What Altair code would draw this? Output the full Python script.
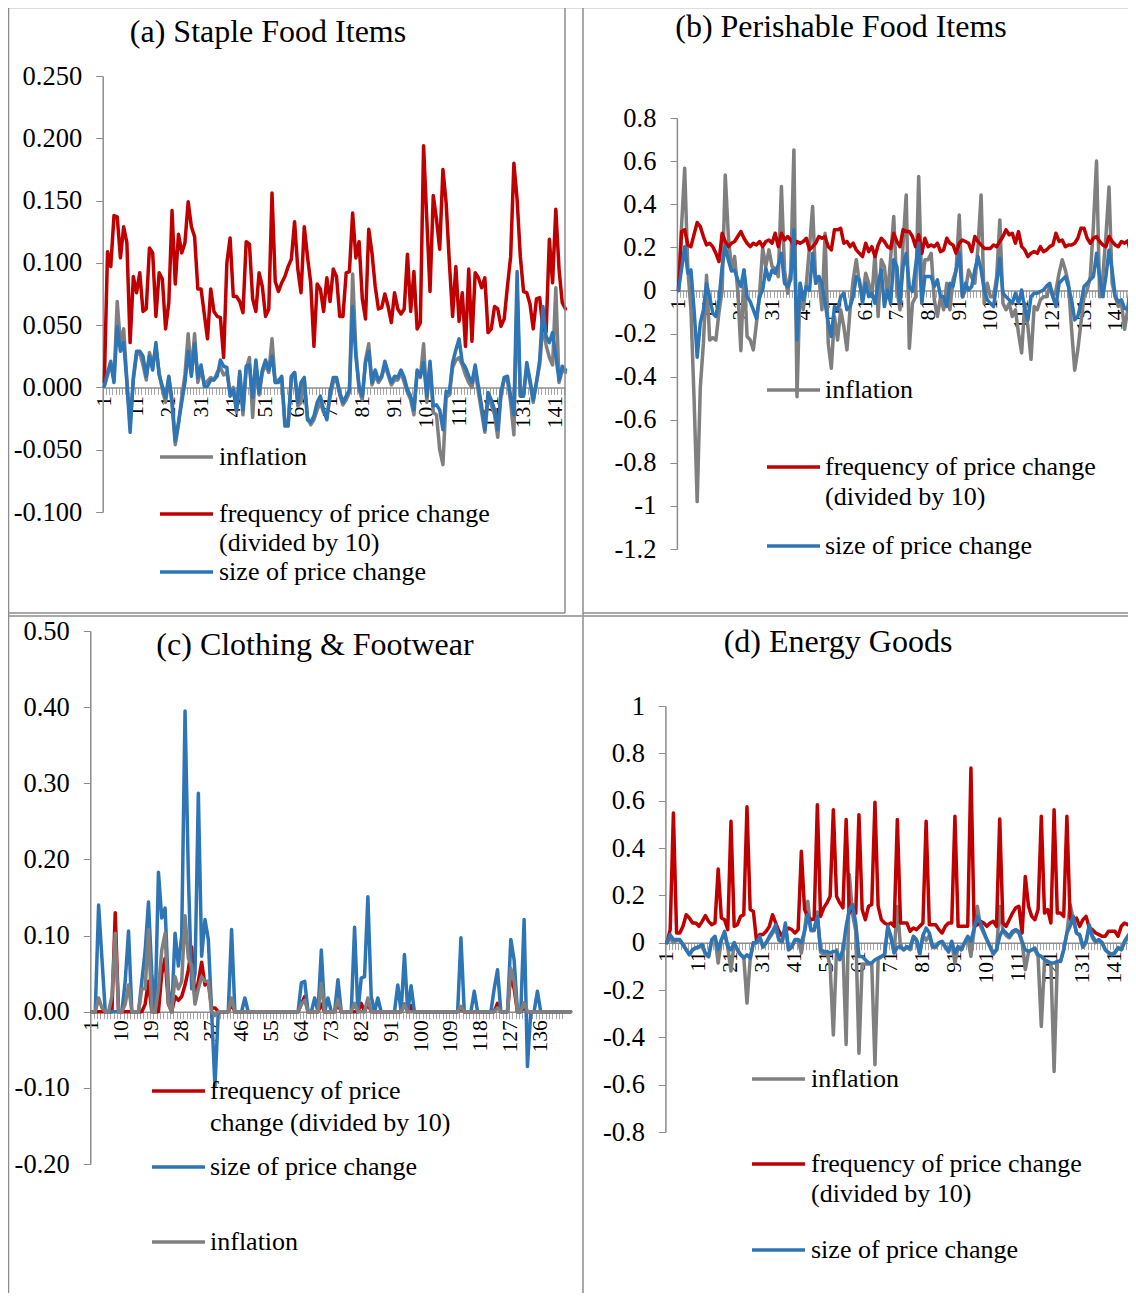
import altair as alt
import pandas as pd

W, H = 1120, 1285
RED = "#C00000"
BLUE = "#2E75B6"
GRAY = "#7F7F7F"
FONT = "Liberation Serif"

# ---------------- (a) Staple Food Items ----------------
a_infl = [0.001, 0.010, 0.018, 0.006, 0.069, 0.035, 0.047, 0.006, -0.030, 0.006,
          0.026, 0.028, 0.018, 0.006, 0.028, 0.018, 0.032, 0.012, -0.002, -0.012,
          0.008, -0.014, -0.046, -0.030, -0.008, 0.010, 0.043, 0.012, 0.043, 0.004,
          0.015, 0.003, 0.005, 0.008, 0.006, 0.012, 0.016, 0.010, 0.012, -0.004,
          0.000, -0.020, 0.010, -0.022, 0.015, 0.024, -0.024, 0.018, -0.006, 0.012,
          0.018, 0.012, 0.039, 0.004, 0.006, 0.008, -0.028, -0.030, 0.008, 0.012,
          -0.015, -0.012, 0.006, -0.024, -0.030, -0.026, -0.018, -0.012, -0.020, -0.024,
          -0.008, 0.004, 0.006, -0.006, -0.014, -0.010, -0.004, 0.091, 0.030, -0.002,
          -0.010, 0.022, 0.035, 0.002, 0.010, 0.004, 0.008, 0.018, 0.010, 0.002,
          0.006, 0.006, 0.012, 0.004, -0.004, -0.010, -0.022, 0.012, 0.008, 0.035,
          -0.012, 0.018, -0.020, -0.022, -0.050, -0.062, -0.008, -0.006, 0.016, 0.022,
          0.024, 0.018, 0.010, 0.004, 0.000, 0.014, -0.004, -0.020, -0.036, -0.008,
          -0.014, -0.022, -0.040, -0.006, 0.006, 0.006, -0.012, -0.038, 0.075, -0.006,
          -0.004, 0.016, 0.004, -0.012, 0.004, 0.018, 0.050, 0.034, 0.024, 0.018,
          0.080, 0.004, 0.014, 0.012]
a_freq = [0.004, 0.109, 0.097, 0.138, 0.137, 0.104, 0.129, 0.116, 0.036, 0.089,
          0.076, 0.092, 0.061, 0.063, 0.112, 0.108, 0.057, 0.092, 0.087, 0.047,
          0.068, 0.142, 0.083, 0.123, 0.108, 0.116, 0.149, 0.129, 0.121, 0.079,
          0.079, 0.059, 0.039, 0.079, 0.061, 0.057, 0.056, 0.024, 0.100, 0.120,
          0.073, 0.073, 0.069, 0.060, 0.117, 0.115, 0.071, 0.061, 0.092, 0.081,
          0.057, 0.063, 0.156, 0.085, 0.077, 0.084, 0.089, 0.097, 0.103, 0.133,
          0.095, 0.076, 0.129, 0.105, 0.084, 0.033, 0.083, 0.079, 0.061, 0.088,
          0.069, 0.095, 0.089, 0.057, 0.057, 0.092, 0.093, 0.140, 0.104, 0.117,
          0.071, 0.055, 0.127, 0.108, 0.081, 0.063, 0.064, 0.075, 0.065, 0.052,
          0.076, 0.063, 0.059, 0.063, 0.107, 0.061, 0.093, 0.047, 0.052, 0.194,
          0.135, 0.077, 0.154, 0.135, 0.111, 0.175, 0.148, 0.100, 0.057, 0.097,
          0.053, 0.076, 0.033, 0.095, 0.037, 0.092, 0.088, 0.080, 0.088, 0.044,
          0.047, 0.065, 0.063, 0.049, 0.055, 0.081, 0.105, 0.180, 0.151, 0.105,
          0.077, 0.076, 0.067, 0.047, 0.071, 0.072, 0.047, 0.045, 0.119, 0.084,
          0.143, 0.095, 0.068, 0.063]
a_size = [0.001, 0.012, 0.021, 0.004, 0.049, 0.029, 0.036, 0.004, -0.036, 0.008,
          0.029, 0.029, 0.025, 0.009, 0.025, 0.014, 0.036, 0.010, 0.001, -0.008,
          0.009, -0.010, -0.043, -0.028, -0.012, 0.004, 0.029, 0.009, 0.035, 0.008,
          0.018, 0.001, 0.001, 0.006, 0.006, 0.009, 0.022, 0.017, 0.016, -0.007,
          -0.002, -0.018, 0.013, -0.018, 0.017, 0.018, -0.008, 0.022, -0.004, 0.014,
          0.022, 0.014, 0.025, 0.004, 0.004, 0.009, -0.031, -0.031, 0.009, 0.012,
          -0.012, 0.004, 0.008, -0.026, -0.028, -0.023, -0.012, -0.007, -0.018, -0.026,
          -0.004, 0.008, 0.008, -0.004, -0.012, -0.007, -0.002, 0.065, 0.025, 0.001,
          -0.007, 0.020, 0.029, 0.004, 0.014, 0.006, 0.009, 0.021, 0.012, 0.004,
          0.009, 0.008, 0.014, 0.008, -0.002, -0.007, -0.018, 0.014, 0.009, 0.020,
          -0.007, 0.021, -0.015, -0.014, -0.018, -0.034, -0.003, -0.004, 0.020, 0.030,
          0.039, 0.020, 0.016, 0.009, 0.004, 0.018, 0.001, -0.015, -0.034, -0.004,
          -0.010, -0.018, -0.034, -0.004, 0.008, 0.009, -0.007, -0.022, 0.093, -0.007,
          -0.007, 0.020, 0.006, -0.010, 0.004, 0.022, 0.065, 0.041, 0.036, 0.044,
          0.025, 0.006, 0.017, 0.014]

# ---------------- (b) Perishable Food Items ----------------
b_infl = [0.00, 0.30, 0.567, 0.10, -0.09, -0.50, -0.98, -0.45, -0.245, 0.07,
          -0.23, -0.22, -0.23, -0.10, 0.00, 0.536, 0.25, 0.095, 0.157, 0.00,
          -0.28, 0.095, -0.214, -0.23, -0.276, -0.152, -0.013, 0.196, 0.111, 0.188,
          0.111, 0.10, 0.064, 0.482, 0.095, -0.013, 0.095, 0.652, -0.493, 0.033,
          -0.09, 0.033, 0.20, 0.389, 0.033, 0.064, -0.09, 0.265, -0.245, -0.361,
          -0.121, -0.23, -0.09, -0.168, -0.276, -0.09, 0.05, 0.142, 0.033, -0.029,
          0.080, 0.033, -0.029, 0.172, -0.121, 0.142, 0.111, -0.029, 0.15, 0.343,
          0.002, -0.09, 0.219, 0.443, -0.268, -0.06, -0.03, 0.528, 0.00, 0.142,
          0.142, 0.172, -0.044, -0.121, -0.03, -0.09, 0.033, -0.09, 0.05, 0.095,
          0.35, -0.03, 0.00, 0.095, 0.06, 0.033, 0.20, 0.443, -0.06, 0.033,
          -0.03, -0.03, 0.064, 0.327, -0.06, -0.09, -0.06, -0.121, -0.09, -0.20,
          -0.29, -0.06, -0.168, -0.32, -0.075, -0.09, -0.044, -0.03, -0.03, 0.018,
          -0.03, 0.00, 0.08, 0.142, 0.095, 0.033, -0.18, -0.37, -0.276, -0.152,
          -0.03, 0.00, 0.064, 0.30, 0.60, -0.03, 0.064, 0.25, 0.48, 0.033,
          -0.03, -0.075, -0.06, -0.18, -0.09, 0.00, 0.19, 0.43]
b_freq = [0.00, 0.273, 0.281, 0.211, 0.203, 0.26, 0.315, 0.296, 0.25, 0.211,
          0.219, 0.203, 0.172, 0.134, 0.265, 0.227, 0.203, 0.219, 0.227, 0.25,
          0.273, 0.242, 0.219, 0.203, 0.219, 0.211, 0.227, 0.203, 0.227, 0.234,
          0.219, 0.265, 0.203, 0.265, 0.234, 0.25, 0.234, 0.203, 0.227, 0.219,
          0.227, 0.242, 0.188, 0.203, 0.219, 0.25, 0.242, 0.25, 0.203, 0.188,
          0.281, 0.281, 0.288, 0.219, 0.227, 0.203, 0.219, 0.188, 0.172, 0.157,
          0.219, 0.18, 0.203, 0.157, 0.211, 0.242, 0.227, 0.203, 0.195, 0.265,
          0.227, 0.203, 0.281, 0.273, 0.273, 0.25, 0.203, 0.258, 0.172, 0.242,
          0.203, 0.211, 0.203, 0.219, 0.18, 0.188, 0.242, 0.219, 0.211, 0.172,
          0.219, 0.234, 0.227, 0.219, 0.18, 0.25, 0.227, 0.211, 0.195, 0.195,
          0.195, 0.211, 0.203, 0.227, 0.25, 0.281, 0.258, 0.265, 0.219, 0.273,
          0.203, 0.188, 0.157, 0.172, 0.18, 0.172, 0.203, 0.18, 0.188, 0.203,
          0.211, 0.265, 0.227, 0.234, 0.203, 0.211, 0.211, 0.219, 0.242, 0.288,
          0.288, 0.242, 0.219, 0.242, 0.25, 0.227, 0.211, 0.203, 0.25, 0.227,
          0.211, 0.203, 0.227, 0.219, 0.23, 0.172, 0.288, 0.29]
b_size = [0.0, 0.10, 0.203, 0.08, 0.095, -0.09, -0.31, -0.152, -0.09, 0.033,
          -0.029, -0.106, -0.121, -0.044, 0.111, 0.203, 0.14, 0.09, 0.095, 0.05,
          0.018, 0.095, -0.029, -0.052, -0.09, -0.13, -0.029, 0.002, 0.103, 0.049,
          0.095, 0.08, 0.12, 0.172, 0.033, 0.018, 0.049, 0.281, -0.23, 0.033,
          -0.044, 0.018, 0.0, 0.172, 0.033, 0.064, 0.033, -0.06, -0.15, -0.214,
          -0.075, -0.09, -0.029, -0.013, -0.09, -0.075, -0.029, 0.064, 0.049, -0.06,
          0.033, -0.029, -0.013, -0.06, 0.03, 0.095, -0.075, 0.002, -0.06, 0.142,
          0.111, -0.06, 0.111, 0.172, 0.018, -0.005, 0.111, 0.219, -0.06, 0.064,
          0.064, 0.064, 0.018, 0.049, -0.029, -0.029, -0.075, 0.033, 0.018, 0.095,
          0.172, -0.029, 0.033, 0.002, 0.018, 0.095, 0.157, 0.095, 0.002, -0.044,
          -0.06, -0.075, 0.033, 0.149, -0.013, -0.029, -0.044, -0.06, -0.013, -0.06,
          0.002, -0.09, -0.137, -0.029, -0.013, -0.013, -0.005, 0.002, 0.02, 0.033,
          -0.029, -0.075, 0.033, 0.049, 0.064, 0.018, -0.044, -0.137, -0.121, -0.06,
          0.018, 0.033, 0.05, 0.064, 0.172, 0.064, -0.029, 0.064, 0.188, 0.095,
          -0.029, -0.052, -0.044, -0.083, -0.09, 0.05, 0.157, 0.16]

# ---------------- (c) Clothing & Footwear ----------------
c_freq = [0, 0, 0, 0, 0, 0, 0, 0.13, 0, 0,
          0, 0, 0, 0, 0, 0, 0.01, 0.04, 0, 0,
          0, 0.05, 0.07, 0.01, 0, 0.02, 0.015, 0.02, 0.035, 0.055,
          0.085, 0.015, 0.04, 0.065, 0.035, 0.04, 0.005, 0.005, 0, 0,
          0, 0, 0.01, 0, 0, 0, 0, 0, 0, 0,
          0, 0, 0, 0, 0, 0, 0, 0, 0, 0,
          0, 0, 0, 0.01, 0.02, 0, 0, 0, 0, 0.01,
          0, 0, 0, 0, 0.01, 0, 0, 0, 0, 0,
          0, 0.011, 0, 0.011, 0, 0, 0, 0, 0, 0,
          0, 0, 0, 0, 0.01, 0, 0.008, 0, 0, 0,
          0, 0, 0, 0, 0, 0, 0, 0, 0, 0,
          0, 0.004, 0, 0, 0, 0, 0, 0, 0, 0,
          0, 0, 0.011, 0, 0, 0, 0.05, 0.03, 0, 0,
          0.005, 0, 0, 0, 0, 0, 0, 0, 0, 0,
          0, 0, 0, 0, 0]
c_size = [0, 0, 0.14, 0.07, 0, 0, 0, 0, 0, 0,
          0.04, 0.106, 0, 0, 0, 0.04, 0.08, 0.144, 0.05, 0,
          0.183, 0.123, 0.136, 0.03, 0, 0.103, 0.06, 0.10, 0.395, 0.18,
          0.03, 0.05, 0.287, 0.073, 0.121, 0.095, 0, -0.098, 0, 0,
          0, 0, 0.108, 0, 0, 0, 0.018, 0, 0, 0,
          0, 0, 0, 0, 0, 0, 0, 0, 0, 0,
          0, 0, 0, 0.038, 0.04, 0, 0, 0.018, 0, 0.081,
          0, 0.018, 0, 0, 0.042, 0, 0, 0, 0, 0.111,
          0, 0.044, 0.046, 0.151, 0.02, 0, 0.018, 0, 0, 0,
          0, 0, 0.035, 0, 0.075, 0, 0.034, 0, 0, 0,
          0, 0, 0, 0, 0, 0, 0, 0, 0, 0,
          0, 0.097, 0, 0, 0, 0.027, 0, 0, 0, 0,
          0, 0.03, 0.055, 0, 0, 0, 0.095, 0.068, 0, 0,
          0.121, -0.072, 0, 0, 0.027, 0, 0, 0, 0, 0,
          0, 0, 0, 0, 0]
c_infl = [0, 0, 0.018, 0.005, 0, 0, 0.02, 0.103, 0, 0,
          0.01, 0.035, 0, 0, 0, 0.03, 0.03, 0.108, 0, 0,
          0.03, 0.081, 0.103, 0.01, 0, 0.046, 0.03, 0.04, 0.126, 0.07,
          0.06, 0.01, 0.03, 0.046, 0.04, 0.04, 0, -0.005, 0, 0,
          0, 0, 0.018, 0, 0, 0, 0, 0, 0, 0,
          0, 0, 0, 0, 0, 0, 0, 0, 0, 0,
          0, 0, 0, 0.01, 0.015, 0, 0, 0, 0, 0.037,
          0, 0, 0, 0, 0.016, 0, 0, 0, 0, 0.011,
          0, 0, 0, 0.018, 0, 0, 0, 0, 0, 0,
          0, 0, 0, 0, 0.009, 0, 0, 0, 0, 0,
          0, 0, 0, 0, 0, 0, 0, 0, 0, 0,
          0, 0.007, 0, 0, 0, 0, 0, 0, 0, 0,
          0, 0, 0.005, 0, 0, 0, 0.057, 0.04, 0, 0,
          0.012, 0, 0, 0, 0, 0, 0, 0, 0, 0,
          0, 0, 0, 0, 0]

# ---------------- (d) Energy Goods ----------------
d_infl = [0.0, 0.02, 0.0, 0.01, 0.01, -0.01, -0.03, -0.05, -0.03, -0.02,
          -0.02, -0.01, -0.05, -0.06, 0.01, 0.02, -0.086, 0.01, 0.04, -0.02,
          -0.12, 0.0, -0.03, -0.05, -0.06, -0.255, -0.07, 0.0, 0.0, 0.02,
          -0.02, 0.0, 0.02, 0.04, 0.06, 0.01, 0.0, 0.07, -0.03, -0.02,
          0.01, 0.01, -0.044, 0.05, 0.175, 0.05, 0.05, 0.13, -0.04, -0.05,
          -0.04, -0.10, -0.39, -0.03, -0.07, -0.03, -0.43, 0.288, 0.12, 0.05,
          -0.467, -0.09, -0.09, -0.09, -0.09, -0.516, -0.07, -0.06, -0.05, 0.06,
          0.02, -0.04, 0.154, -0.02, -0.03, -0.02, -0.03, 0.02, 0.01, -0.05,
          0.03, 0.01, 0.03, -0.02, -0.02, 0.0, 0.0, -0.02, -0.04, 0.0,
          -0.086, -0.02, -0.03, 0.0, 0.02, -0.058, 0.05, 0.154, 0.07, 0.04,
          0.01, -0.02, -0.05, -0.03, 0.154, 0.05, 0.03, 0.02, 0.04, 0.05,
          0.04, 0.0, -0.114, -0.04, -0.03, -0.03, -0.06, -0.354, -0.08, -0.08,
          -0.09, -0.544, -0.08, -0.08, -0.03, 0.04, 0.161, 0.10, 0.04, 0.03,
          -0.02, 0.0, 0.07, 0.02, 0.0, 0.01, 0.0, -0.03, -0.04, -0.05,
          -0.04, -0.02, -0.03, 0.0, 0.02, 0.04, 0.06, 0.06]
d_freq = [0.0, 0.055, 0.548, 0.041, 0.041, 0.069, 0.118, 0.104, 0.083, 0.083,
          0.069, 0.09, 0.114, 0.09, 0.076, 0.083, 0.311, 0.104, 0.097, 0.055,
          0.513, 0.069, 0.076, 0.111, 0.118, 0.574, 0.14, 0.132, 0.006, 0.034,
          0.034, 0.048, 0.069, 0.118, 0.083, 0.048, 0.027, 0.048, 0.062, 0.055,
          0.041, 0.055, 0.386, 0.14, 0.111, 0.097, 0.10, 0.583, 0.111, 0.147,
          0.168, 0.196, 0.562, 0.196, 0.168, 0.147, 0.52, 0.125, 0.154, 0.125,
          0.541, 0.14, 0.097, 0.154, 0.161, 0.593, 0.154, 0.097, 0.083, 0.076,
          0.083, 0.069, 0.52, 0.083, 0.083, 0.083, 0.048, 0.062, 0.055, 0.069,
          0.083, 0.513, 0.076, 0.076, 0.076, 0.055, 0.041, 0.069, 0.083, 0.083,
          0.534, 0.069, 0.069, 0.069, 0.069, 0.738, 0.069, 0.076, 0.09, 0.083,
          0.069, 0.083, 0.09, 0.069, 0.523, 0.083, 0.069, 0.097, 0.125, 0.147,
          0.154, 0.041, 0.28, 0.154, 0.111, 0.097, 0.14, 0.534, 0.125, 0.14,
          0.083, 0.562, 0.125, 0.125, 0.111, 0.534, 0.104, 0.083, 0.104, 0.069,
          0.097, 0.111, 0.062, 0.055, 0.041, 0.034, 0.027, 0.027, 0.048, 0.048,
          0.048, 0.027, 0.069, 0.083, 0.076, 0.083, 0.224, 0.26]
d_size = [0.0, 0.034, 0.013, 0.013, 0.013, -0.008, -0.03, -0.051, -0.03, -0.023,
          -0.016, -0.008, -0.044, -0.058, 0.013, 0.027, -0.03, 0.013, 0.048, -0.016,
          -0.03, 0.0, -0.03, -0.051, -0.065, -0.051, -0.065, 0.0, 0.0, 0.027,
          -0.016, 0.0, 0.027, 0.048, 0.076, 0.013, 0.006, 0.083, -0.03, -0.016,
          0.013, 0.013, 0.0, 0.048, 0.118, 0.055, 0.055, 0.111, -0.03, -0.037,
          -0.037, -0.044, -0.037, -0.037, -0.072, -0.03, 0.069, 0.14, 0.161, 0.083,
          -0.058, -0.058, -0.072, -0.086, -0.086, -0.072, -0.065, -0.058, -0.051, 0.069,
          0.027, -0.044, -0.02, -0.016, -0.03, -0.016, -0.023, 0.027, 0.013, -0.044,
          0.03, 0.062, 0.041, -0.016, -0.016, 0.0, 0.006, -0.016, -0.037, 0.006,
          -0.044, -0.016, -0.03, 0.0, 0.027, 0.006, 0.06, 0.111, 0.083, 0.048,
          0.013, -0.016, -0.044, -0.03, 0.027, 0.055, 0.041, 0.027, 0.048, 0.055,
          0.048, 0.006, -0.03, -0.037, -0.03, -0.023, -0.051, -0.058, -0.072, -0.079,
          -0.086, -0.086, -0.079, -0.079, -0.03, 0.041, 0.069, 0.111, 0.041, 0.034,
          -0.016, 0.006, 0.076, 0.027, 0.006, 0.013, 0.0, -0.03, -0.044, -0.051,
          -0.044, -0.023, -0.03, 0.006, 0.027, 0.048, 0.062, 0.07]

# ---------------- text & decoration ----------------
title_x = [260, 833, 307, 830]
title_y = [24, 19, 637, 634]
title_t = ["(a) Staple Food Items", "(b) Perishable Food Items",
           "(c) Clothing & Footwear", "(d) Energy Goods"]

leg_x = [211, 211, 211, 211, 817, 817, 817, 817, 202, 202, 202, 202, 803, 803, 803, 803]
leg_y = [449, 506, 535, 564, 382, 459, 489, 538, 1083, 1115, 1159, 1234, 1071, 1156, 1186, 1242]
leg_t = ["inflation", "frequency of price change", "(divided by 10)", "size of price change",
         "inflation", "frequency of price change", "(divided by 10)", "size of price change",
         "frequency of price", "change (divided by 10)", "size of price change", "inflation",
         "inflation", "frequency of price change", "(divided by 10)", "size of price change"]

sw_x1 = [152, 152, 152, 759, 759, 759, 144, 144, 144, 744, 744, 744]
sw_x2 = [205, 205, 205, 812, 812, 812, 197, 197, 197, 797, 797, 797]
sw_y = [449, 506, 564, 382, 459, 538, 1083, 1159, 1234, 1071, 1156, 1242]
sw_c = [GRAY, RED, BLUE, GRAY, RED, BLUE, RED, BLUE, GRAY, GRAY, RED, BLUE]

fr_x1 = [557, 0, 575, 575, 0, 575, 0.5]
fr_x2 = [557, 557, 575, 1120, 574, 1120, 0.5]
fr_y1 = [0, 605, 0, 605, 608, 608, 0]
fr_y2 = [605, 605, 1285, 605, 608, 608, 1285]


def sdf(vals):
    return pd.DataFrame({"i": list(range(1, len(vals) + 1)), "v": vals})


def make_panel(series, xdom, xrng, ydom, yrng, yvals, yfmt, xlab_vals):
    y0 = yrng[0] + (0 - ydom[0]) / (ydom[1] - ydom[0]) * (yrng[1] - yrng[0])
    nb = int(xdom[1] - 0.5) + 1
    tick_vals = [k + 0.5 for k in range(nb)]
    xs = alt.Scale(domain=xdom, range=xrng, nice=False, zero=False)
    ys = alt.Scale(domain=ydom, range=yrng, nice=False, zero=False)
    tick_axis = alt.Axis(orient="bottom", offset=y0 - H, values=tick_vals, labels=False,
                         ticks=True, tickSize=7, tickColor="#a6a6a6", tickWidth=1,
                         domain=True, domainColor="#8c8c8c", domainWidth=1.5,
                         grid=False, title=None)
    lab_axis = alt.Axis(orient="bottom", offset=y0 - H, values=xlab_vals, labels=True,
                        ticks=False, tickSize=0, domain=False, grid=False, title=None,
                        labelAngle=270, labelFont=FONT, labelFontSize=21.5,
                        labelColor="black", labelPadding=8, labelFlush=False,
                        labelOverlap=False, format="d")
    y_axis = alt.Axis(orient="left", offset=-xrng[0], values=yvals, format=yfmt,
                      labelExpr="replace(datum.label, '\u2212', '-')",
                      tickSize=7, tickColor="#8c8c8c", domainColor="#8c8c8c",
                      domainWidth=1.5, labelFont=FONT, labelFontSize=26.5,
                      labelColor="black", labelPadding=14, grid=False, title=None,
                      labelFlush=False, labelOverlap=False)
    layers = []
    for k, (vals, col) in enumerate(series):
        xa = tick_axis if k == 0 else (lab_axis if k == 1 else None)
        ya = y_axis if k == 0 else None
        layers.append(
            alt.Chart(sdf(vals)).mark_line(color=col, strokeWidth=3.5, strokeJoin="round",
                                           strokeCap="round").encode(
                x=alt.X("i:Q", scale=xs, axis=xa),
                y=alt.Y("v:Q", scale=ys, axis=ya)))
    return layers


labs10 = [1 + 10 * k for k in range(15)]
labs9 = [1 + 9 * k for k in range(16)]

layers = []
layers += make_panel([(a_infl, GRAY), (a_freq, RED), (a_size, BLUE)],
                     [0.5, 143.85], [94.7, 557], [-0.1, 0.25], [504, 68],
                     [-0.1, -0.05, 0.0, 0.05, 0.1, 0.15, 0.2, 0.25], ".3f", labs10)
layers += make_panel([(b_infl, GRAY), (b_freq, RED), (b_size, BLUE)],
                     [0.5, 147.65], [668.9, 1128], [-1.2, 0.8], [541, 110],
                     [-1.2, -1.0, -0.8, -0.6, -0.4, -0.2, 0.0, 0.2, 0.4, 0.6, 0.8], "~g", labs10)
layers += make_panel([(c_freq, RED), (c_size, BLUE), (c_infl, GRAY)],
                     [0.5, 143.3], [82.3, 557], [-0.2, 0.5], [1156, 623],
                     [-0.2, -0.1, 0.0, 0.1, 0.2, 0.3, 0.4, 0.5], ".2f", labs9)
layers += make_panel([(d_infl, GRAY), (d_freq, RED), (d_size, BLUE)],
                     [0.5, 147.6], [657.4, 1128], [-0.8, 1.0], [1124, 698],
                     [-0.8, -0.6, -0.4, -0.2, 0.0, 0.2, 0.4, 0.6, 0.8, 1.0], "~g", labs10)

frames = pd.DataFrame({"x1": fr_x1, "x2": fr_x2, "y1": fr_y1, "y2": fr_y2})
layers.append(alt.Chart(frames).mark_rule(color="#8c8c8c", strokeWidth=1.5).encode(
    x=alt.X("x1:Q", scale=None, axis=None), x2="x2:Q",
    y=alt.Y("y1:Q", scale=None, axis=None), y2="y2:Q"))

swatch = pd.DataFrame({"x1": sw_x1, "x2": sw_x2, "y": sw_y, "c": sw_c})
layers.append(alt.Chart(swatch).mark_rule(strokeWidth=3.5).encode(
    x=alt.X("x1:Q", scale=None, axis=None), x2="x2:Q",
    y=alt.Y("y:Q", scale=None, axis=None),
    color=alt.Color("c:N", scale=None, legend=None)))

legtxt = pd.DataFrame({"x": leg_x, "y": leg_y, "t": leg_t})
layers.append(alt.Chart(legtxt).mark_text(font=FONT, fontSize=26, align="left",
                                          baseline="middle", color="black").encode(
    x=alt.X("x:Q", scale=None, axis=None), y=alt.Y("y:Q", scale=None, axis=None),
    text="t:N"))

titles = pd.DataFrame({"x": title_x, "y": title_y, "t": title_t})
layers.append(alt.Chart(titles).mark_text(font=FONT, fontSize=32, align="center",
                                          baseline="middle", color="black").encode(
    x=alt.X("x:Q", scale=None, axis=None), y=alt.Y("y:Q", scale=None, axis=None),
    text="t:N"))

chart = alt.layer(*layers).resolve_scale(
    x="independent", y="independent", color="independent"
).resolve_axis(x="independent", y="independent").properties(
    width=W, height=H, autosize=alt.AutoSizeParams(type="none"), padding=0
).configure_view(strokeWidth=0).configure(background="white")

chart.save("out.html", embed_options={"renderer": "svg", "actions": False})
